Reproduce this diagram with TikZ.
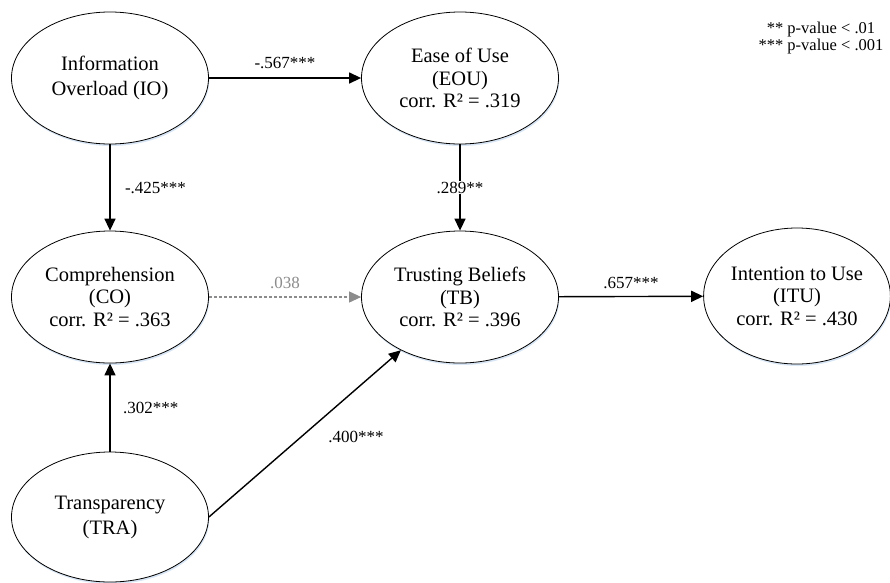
\documentclass[tikz,border=0pt]{standalone}
\usepackage{fontspec}
\setmainfont{Liberation Serif}
\usetikzlibrary{shapes.geometric,arrows.meta,shadows}
\definecolor{shadowblue}{RGB}{216,229,245}
\definecolor{nsgray}{RGB}{140,140,140}
\begin{document}
\begin{tikzpicture}[x=1pt,y=-1pt,
  construct/.style={ellipse, draw, line width=0.8pt, fill=white,
    minimum width=197pt, minimum height=132pt, inner sep=0pt, align=center,
    font=\fontsize{20.5}{22.5}\selectfont,
    drop shadow={shadow xshift=0.8pt, shadow yshift=-2pt, fill=shadowblue, opacity=1}},
  twoline/.style={font=\fontsize{20.5}{25}\selectfont},
  effect/.style={line width=1.4pt, -{Triangle[length=12pt,width=11pt]}},
  nseffect/.style={line width=1.1pt, nsgray, dash pattern=on 3pt off 2pt,
    -{Triangle[length=12pt,width=11pt]}},
  coef/.style={font=\fontsize{17}{19}\selectfont, text=black},
]
\useasboundingbox (0,0) rectangle (890,582);

% constructs
\node[construct, twoline] (IO) at (110,78) {Information\\Overload (IO)};
\node[construct] (EOU) at (460,78) {Ease of Use\\(EOU)\\corr. R² = .319};
\node[construct] (CO) at (110,297) {Comprehension\\(CO)\\corr. R² = .363};
\node[construct] (TB) at (460,297) {Trusting Beliefs\\(TB)\\corr. R² = .396};
\node[construct, minimum width=186pt, minimum height=136pt] (ITU) at (797,296) {Intention to Use\\(ITU)\\corr. R² = .430};
\node[construct, twoline, minimum height=130pt] (TRA) at (110,517) {Transparency\\(TRA)};

% structural paths
\draw[effect] (IO) -- node[coef, above=5pt] (cIOEOU) {-.567***} (EOU);
\draw[effect] (IO) -- node[coef, right=11pt] (cIOCO) {-.425***} (CO);
\draw[effect] (EOU) -- node[coef, fill=white, inner sep=1pt] (cEOUTB) {.289**} (TB);
\draw[nseffect] (CO) -- node[coef, above=4pt, text=nsgray] (cCOTB) {.038} (TB);
\draw[effect] (TB) -- node[coef, above=4pt] (cTBITU) {.657***} (ITU);
\draw[effect] (TRA) -- node[coef, right=9pt] (cTRACO) {.302***} (CO);
\draw[effect] (TRA.east) -- (TB.222);
\node[coef] (cTRATB) at (356,437) {.400***};

% significance legend
\node[coef, align=center, font=\fontsize{16.5}{17}\selectfont] (legend) at (821,38)
  {** p-value < .01\\*** p-value < .001};
\end{tikzpicture}
\end{document}
